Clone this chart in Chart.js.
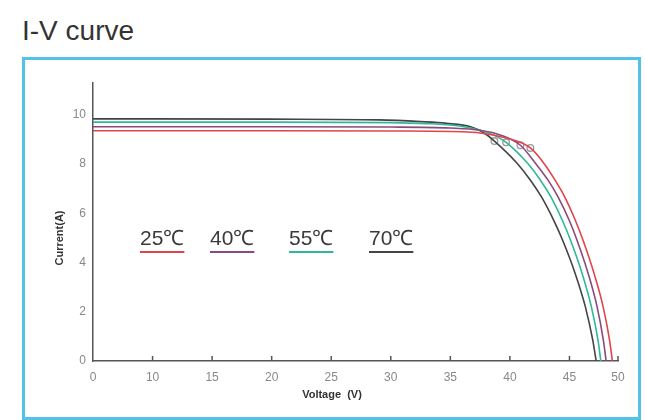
<!DOCTYPE html>
<html lang="en">
<head>
    <meta charset="UTF-8">
    <title>I-V curve</title>
    <script src="https://cdn.jsdelivr.net/npm/chart.js"></script>
    <style>
        body {
            margin: 0;
            width: 645px;
            height: 420px;
            overflow: hidden;
            background: #fff;
            font-family: "Liberation Sans", Arial, sans-serif;
        }
        #title {
            position: absolute;
            left: 22px;
            top: 15px;
            font-size: 28px;
            color: #333;
        }
        #frame {
            position: absolute;
            left: 22px;
            top: 57px;
            width: 619px;
            height: 363px;
            box-sizing: border-box;
            border: 3px solid #52c2e8;
        }
        #ivChart {
            position: absolute;
            left: 0;
            top: 0;
        }
    </style>
</head>
<body>

<div id="title">I-V curve</div>
<div id="frame"></div>
<canvas id="ivChart" width="645" height="420"></canvas>

<script>
    // Curvas I-V (tensão em V, corrente em A)
    const v25 = [0, 10, 20, 30, 36, 37.5, 39.8, 41.72, 42.83, 43.78, 44.60, 45.59, 46.39, 47.52, 48.47, 49.13, 49.42];
    const i25 = [9.36, 9.36, 9.36, 9.35, 9.32, 9.27, 9.05, 8.66, 8.05, 7.36, 6.67, 5.73, 4.92, 3.58, 2.20, 0.85, 0];

    const v40 = [0, 10, 20, 30, 35, 37.5, 39.3, 40.88, 42.13, 43.19, 44.04, 44.97, 45.77, 46.91, 47.85, 48.49, 48.78];
    const i40 = [9.52, 9.52, 9.52, 9.51, 9.47, 9.38, 9.17, 8.77, 8.05, 7.36, 6.67, 5.73, 4.92, 3.58, 2.20, 0.85, 0];

    const v55 = [0, 10, 20, 30, 33, 35.6, 37.5, 38.7, 39.68, 41.47, 42.55, 43.44, 44.39, 45.10, 46.29, 47.26, 47.94, 48.23];
    const i55 = [9.71, 9.71, 9.71, 9.69, 9.65, 9.56, 9.38, 9.17, 8.89, 8.05, 7.36, 6.67, 5.73, 4.92, 3.58, 2.20, 0.85, 0];

    const v70 = [0, 10, 20, 29, 32.5, 34.7, 36.7, 37.8, 38.7, 40.58, 41.71, 42.65, 43.67, 44.42, 45.57, 46.64, 47.40, 47.75];
    const i70 = [9.84, 9.84, 9.83, 9.80, 9.73, 9.66, 9.52, 9.28, 8.94, 8.05, 7.36, 6.67, 5.73, 4.92, 3.58, 2.20, 0.85, 0];

    // pontos de potência máxima (25, 40, 55, 70 °C)
    const mppV = [41.72, 40.88, 39.68, 38.7];
    const mppI = [8.66, 8.77, 8.89, 8.94];

    const seriesNames = ['25℃', '40℃', '55℃', '70℃'];
    const seriesColors = ['#e0444c', '#8a4a7c', '#2fb89a', '#444444'];

    // rótulos do eixo X: no original não são equidistantes (0 -> 10 tem o mesmo passo que 10 -> 15)
    const tickVolts = [0, 10, 15, 20, 25, 30, 35, 40, 45, 50];
    const tickSlots = [0, 1, 2, 3, 4, 5, 6, 7, 8, 8.815];

    // converte tensão para a posição no eixo (interpolação entre os rótulos)
    function toSlot(v) {
        for (let k = 1; k < tickVolts.length; k++) {
            if (v <= tickVolts[k]) {
                const t = (v - tickVolts[k - 1]) / (tickVolts[k] - tickVolts[k - 1]);
                return tickSlots[k - 1] + t * (tickSlots[k] - tickSlots[k - 1]);
            }
        }
        return tickSlots[tickSlots.length - 1];
    }

    function toPoints(vs, is) {
        return vs.map((v, k) => ({ x: toSlot(v), y: is[k] }));
    }

    const curves = [[v25, i25], [v40, i40], [v55, i55], [v70, i70]];

    const datasets = curves.map((c, k) => ({
        label: seriesNames[k],
        data: toPoints(c[0], c[1]),
        borderColor: seriesColors[k],
        borderWidth: 1.6,
        pointRadius: 0,
        cubicInterpolationMode: 'monotone',
        fill: false
    }));

    datasets.push({
        label: 'Pmax',
        data: toPoints(mppV, mppI),
        showLine: false,
        pointRadius: 3.3,
        pointBorderWidth: 1.3,
        pointBorderColor: '#999999',
        pointBackgroundColor: '#ffffff'
    });

    // títulos dos eixos, legenda sublinhada e marcas internas do eixo X
    const decorPlugin = {
        id: 'decor',
        afterDraw(chart) {
            const ctx = chart.ctx;
            const xs = chart.scales.x;
            const area = chart.chartArea;
            ctx.save();

            ctx.strokeStyle = '#555';
            ctx.lineWidth = 1.5;
            xs.ticks.forEach((t, k) => {
                if (k === 0) return;
                const px = xs.getPixelForValue(t.value);
                ctx.beginPath();
                ctx.moveTo(px, area.bottom);
                ctx.lineTo(px, area.bottom - 5);
                ctx.stroke();
            });

            ctx.fillStyle = '#333';
            ctx.font = 'bold 11px "Liberation Sans", Arial, sans-serif';
            ctx.textAlign = 'center';
            ctx.textBaseline = 'middle';
            ctx.fillText('Voltage  (V)', 332, 395);

            ctx.save();
            ctx.translate(60, 238);
            ctx.rotate(-Math.PI / 2);
            ctx.fillText('Current(A)', 0, 0);
            ctx.restore();

            const legendX = [140, 210, 289, 369];
            ctx.font = '21px "Liberation Sans", Arial, sans-serif';
            ctx.textAlign = 'left';
            ctx.textBaseline = 'alphabetic';
            seriesNames.forEach((name, k) => {
                ctx.fillStyle = '#3a3a3a';
                ctx.fillText(name, legendX[k], 245);
                const w = ctx.measureText(name).width;
                ctx.strokeStyle = seriesColors[k];
                ctx.lineWidth = 2;
                ctx.beginPath();
                ctx.moveTo(legendX[k], 252);
                ctx.lineTo(legendX[k] + w, 252);
                ctx.stroke();
            });

            ctx.restore();
        }
    };

    const ctx = document.getElementById('ivChart').getContext('2d');
    const ivChart = new Chart(ctx, {
        type: 'line',
        data: { datasets: datasets },
        options: {
            responsive: false,
            animation: false,
            layout: {
                padding: { left: 20, top: 83, right: 27, bottom: 19 }
            },
            plugins: {
                legend: { display: false },
                tooltip: { enabled: false }
            },
            scales: {
                x: {
                    type: 'linear',
                    min: 0,
                    max: tickSlots[tickSlots.length - 1],
                    afterBuildTicks: function (axis) {
                        axis.ticks = tickSlots.map(s => ({ value: s }));
                    },
                    afterFit: function (axis) {
                        axis.height = 40;
                    },
                    grid: { display: false, drawTicks: false },
                    border: { color: '#555', width: 1.5 },
                    ticks: {
                        autoSkip: false,
                        maxRotation: 0,
                        padding: 9,
                        color: '#888',
                        font: { family: 'Liberation Sans', size: 12 },
                        callback: function (value, index) {
                            return tickVolts[index];
                        }
                    }
                },
                y: {
                    min: 0,
                    max: 11.3,
                    afterFit: function (axis) {
                        axis.width = 73;
                    },
                    grid: { display: false, drawTicks: false },
                    border: { color: '#555', width: 1.5 },
                    ticks: {
                        stepSize: 2,
                        includeBounds: false,
                        padding: 7,
                        color: '#888',
                        font: { family: 'Liberation Sans', size: 12 }
                    }
                }
            }
        },
        plugins: [decorPlugin]
    });
</script>

</body>
</html>
